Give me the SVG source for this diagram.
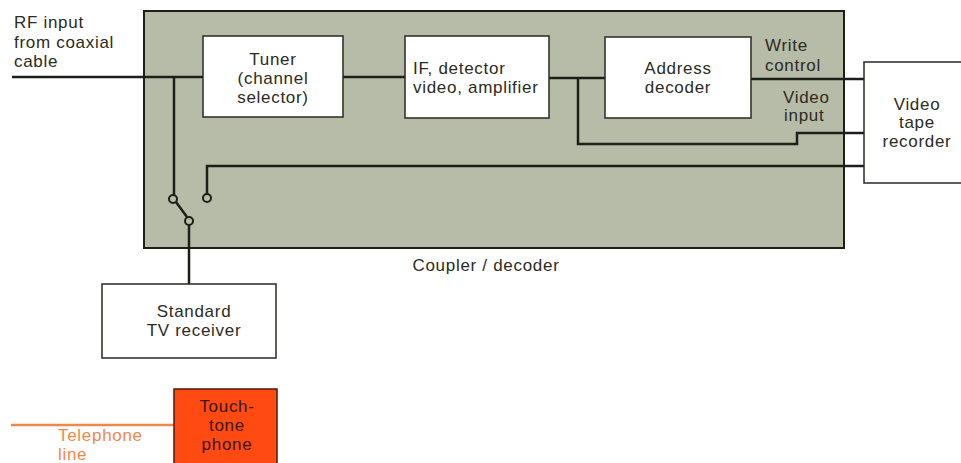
<svg xmlns="http://www.w3.org/2000/svg" width="961" height="463" viewBox="0 0 961 463">
<style>
text{font-family:"Liberation Sans",Arial,sans-serif;font-size:17px;letter-spacing:0.7px;fill:#2b2b22}
.c{text-anchor:middle}
.box{fill:#fff;stroke:#2a2a22;stroke-width:1.5}
.ln{fill:none;stroke:#1e1e18;stroke-width:2.5}
.term{fill:#b7bca9;stroke:#1e1e18;stroke-width:2}
</style>
<rect width="961" height="463" fill="#fff"/>
<g id="coupler">
<rect x="144" y="11" width="700" height="237" fill="#b7bca9" stroke="#1e1e18" stroke-width="2"/>
<text x="486" y="271" class="c">Coupler / decoder</text>
</g>
<g id="rf-label">
<text x="14" y="28">RF input</text>
<text x="14" y="48">from coaxial</text>
<text x="14" y="67">cable</text>
</g>
<g id="connectors">
<path class="ln" d="M12 77H203"/>
<path class="ln" d="M174 77V195"/>
<path class="ln" d="M343 77H405"/>
<path class="ln" d="M549 78H605"/>
<path class="ln" d="M578 78V144H797V133H864"/>
<path class="ln" d="M751 79H864"/>
<path class="ln" d="M207 194V166H864"/>
<path class="ln" d="M176 202L187 217"/>
<path class="ln" d="M189 225V284"/>
<path d="M11 425H174" fill="none" stroke="#f0884a" stroke-width="2.5"/>
<circle class="term" cx="173" cy="199" r="4"/>
<circle class="term" cx="207" cy="198" r="4"/>
<circle class="term" cx="189" cy="221" r="4"/>
</g>
<g id="tuner">
<rect class="box" x="203" y="36" width="140" height="81"/>
<text x="273" y="65" class="c">Tuner</text>
<text x="273" y="84" class="c">(channel</text>
<text x="273" y="103" class="c">selector)</text>
</g>
<g id="if-detector">
<rect class="box" x="405" y="36" width="144" height="82"/>
<text x="413" y="74">IF, detector</text>
<text x="413" y="93">video, amplifier</text>
</g>
<g id="address-decoder">
<rect class="box" x="605" y="37" width="146" height="81"/>
<text x="678" y="74" class="c">Address</text>
<text x="678" y="93" class="c">decoder</text>
</g>
<g id="labels">
<text x="765" y="51">Write</text>
<text x="765" y="71">control</text>
<text x="783" y="103">Video</text>
<text x="784" y="121">input</text>
</g>
<g id="vtr">
<rect class="box" x="864" y="62" width="100" height="121"/>
<text x="917" y="110" class="c">Video</text>
<text x="917" y="128" class="c">tape</text>
<text x="917" y="147" class="c">recorder</text>
</g>
<g id="tv">
<rect class="box" x="102" y="284" width="174" height="74"/>
<text x="194" y="317" class="c">Standard</text>
<text x="194" y="336" class="c">TV  receiver</text>
</g>
<g id="phone">
<rect x="174" y="389" width="103" height="78" fill="#ff4a12" stroke="#4a1a0c" stroke-width="1.5"/>
<text x="227" y="412" class="c" style="fill:#3a140a">Touch-</text>
<text x="227" y="431" class="c" style="fill:#3a140a">tone</text>
<text x="227" y="450" class="c" style="fill:#3a140a">phone</text>
</g>
<g id="telephone-label">
<text x="58" y="441" style="fill:#f0884a">Telephone</text>
<text x="58" y="460" style="fill:#f0884a">line</text>
</g>
</svg>
